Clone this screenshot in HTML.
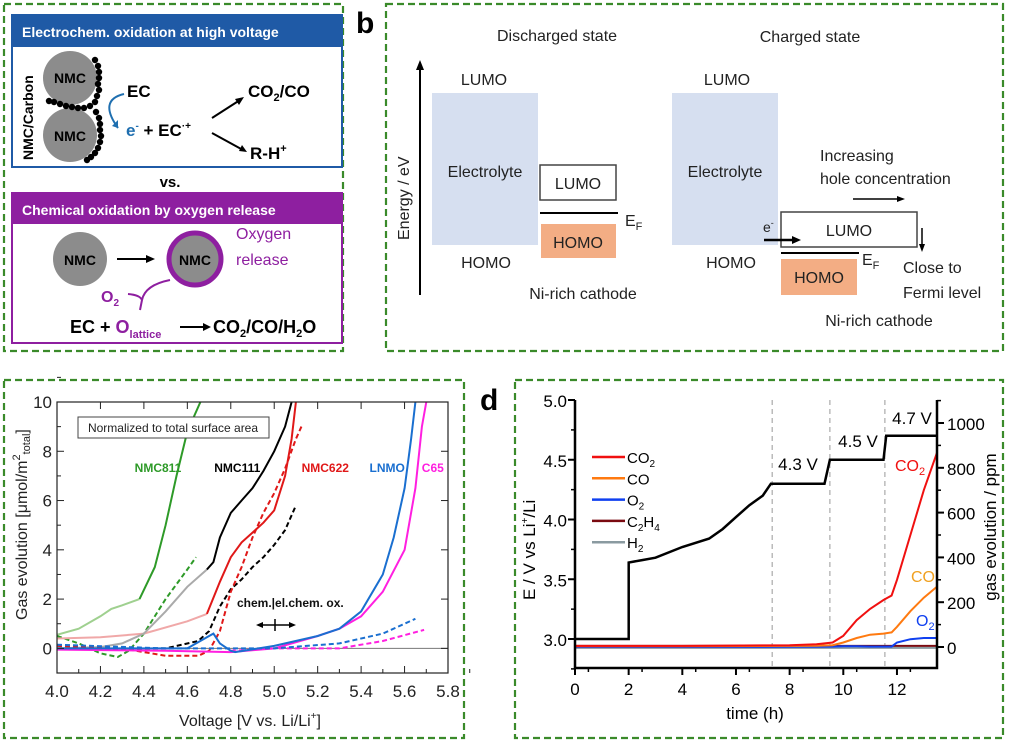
<!DOCTYPE html>
<html><head><meta charset="utf-8"><style>
body{margin:0;background:#fff;width:1010px;height:746px;overflow:hidden}
svg{display:block;font-family:"Liberation Sans",Arial,sans-serif}
</style></head><body>
<svg id="fig" width="1010" height="746" viewBox="0 0 1010 746">
<!-- frames -->
<g fill="none" stroke="#3a8a2a" stroke-width="2.2" stroke-dasharray="7,4">
<rect x="4" y="4" width="339" height="347"/>
<rect x="386" y="4" width="617" height="347"/>
<rect x="4" y="380" width="460" height="358"/>
<rect x="515" y="380" width="488" height="358"/>
</g>
<text x="356" y="33" font-size="30" font-weight="bold">b</text>
<text x="480" y="410" font-size="30" font-weight="bold">d</text>

<!-- Panel a -->
<g>
<rect x="12" y="15" width="330" height="152" fill="#fff" stroke="#1f5aa6" stroke-width="2"/>
<rect x="12" y="15" width="330" height="32" fill="#1f5aa6"/>
<text x="22" y="37" font-size="14" font-weight="bold" fill="#fff">Electrochem. oxidation at high voltage</text>
<circle cx="70" cy="78" r="27" fill="#8c8c8c"/>
<circle cx="70" cy="135" r="27" fill="#8c8c8c"/>
<text x="70" y="83" font-size="14" font-weight="bold" text-anchor="middle">NMC</text>
<text x="70" y="141" font-size="14" font-weight="bold" text-anchor="middle">NMC</text>
<g fill="#000" id="dots"></g>
<text transform="translate(33,160) rotate(-90)" font-size="14" font-weight="bold">NMC/Carbon</text>
<text x="127" y="97" font-size="17" font-weight="bold">EC</text>
<path d="M124 94 Q98 100 118 128" fill="none" stroke="#1f6fb0" stroke-width="2"/>
<path d="M118 128 l-6 -2 l6 -6z" fill="#1f6fb0"/>
<text x="126" y="136" font-size="17" font-weight="bold"><tspan fill="#1f6fb0">e<tspan font-size="10" dy="-7">-</tspan></tspan><tspan dy="7"> + EC</tspan><tspan font-size="10" dy="-7">·+</tspan></text>
<path d="M212 118 L240 100" stroke="#000" stroke-width="2"/><path d="M244 97 l-9 2 l4 6z"/>
<path d="M212 133 L243 150" stroke="#000" stroke-width="2"/><path d="M247 152 l-5 -7 l-3 6z"/>
<text x="248" y="97" font-size="17" font-weight="bold">CO<tspan font-size="11" dy="4">2</tspan><tspan dy="-4">/CO</tspan></text>
<text x="250" y="159" font-size="17" font-weight="bold">R-H<tspan font-size="11" dy="-7">+</tspan></text>
<text x="170" y="187" font-size="15" font-weight="bold" text-anchor="middle">vs.</text>
<rect x="12" y="193" width="330" height="150" fill="#fff" stroke="#8e1fa0" stroke-width="2"/>
<rect x="12" y="193" width="330" height="31" fill="#8e1fa0"/>
<text x="22" y="215" font-size="14" font-weight="bold" fill="#fff">Chemical oxidation by oxygen release</text>
<circle cx="80" cy="259" r="27" fill="#8c8c8c"/>
<text x="80" y="265" font-size="14" font-weight="bold" text-anchor="middle">NMC</text>
<path d="M117 259 L148 259" stroke="#000" stroke-width="2"/><path d="M155 259 l-9 -4 v8z"/>
<circle cx="195" cy="259" r="26" fill="#8c8c8c" stroke="#8e1fa0" stroke-width="5"/>
<text x="195" y="265" font-size="14" font-weight="bold" text-anchor="middle">NMC</text>
<text x="236" y="239" font-size="16" fill="#8e1fa0">Oxygen</text>
<text x="236" y="265" font-size="16" fill="#8e1fa0">release</text>
<path d="M170 280 Q145 285 142 300 M142 300 Q140 295 128 294 M142 300 L140 310" fill="none" stroke="#8e1fa0" stroke-width="2"/>
<text x="101" y="302" font-size="16" font-weight="bold" fill="#8e1fa0">O<tspan font-size="10" dy="4">2</tspan></text>
<text x="70" y="333" font-size="18" font-weight="bold">EC + <tspan fill="#8e1fa0">O<tspan font-size="11" dy="5">lattice</tspan></tspan></text>
<path d="M180 327 L205 327" stroke="#000" stroke-width="2"/><path d="M211 327 l-8 -4 v8z"/>
<text x="213" y="333" font-size="18" font-weight="bold">CO<tspan font-size="11" dy="4">2</tspan><tspan dy="-4">/CO/H</tspan><tspan font-size="11" dy="4">2</tspan><tspan dy="-4">O</tspan></text>
</g>

<!-- Panel b -->
<g font-size="16" fill="#222">
<text x="557" y="41" text-anchor="middle">Discharged state</text>
<text x="810" y="42" text-anchor="middle">Charged state</text>
<path d="M420 295 L420 68" stroke="#000" stroke-width="2"/><path d="M420 60 l-4 10 h8z" fill="#000"/>
<text transform="translate(409,240) rotate(-90)" font-size="16">Energy / eV</text>
<text x="484" y="85" text-anchor="middle">LUMO</text>
<text x="486" y="268" text-anchor="middle">HOMO</text>
<rect x="432" y="93" width="106" height="152" fill="#d6dff0"/>
<text x="485" y="177" text-anchor="middle">Electrolyte</text>
<rect x="540" y="165" width="76" height="35" fill="#fff" stroke="#444" stroke-width="1.5"/>
<text x="578" y="189" text-anchor="middle">LUMO</text>
<path d="M540 213 H618" stroke="#000" stroke-width="2"/>
<text x="625" y="226">E<tspan font-size="11" dy="4">F</tspan></text>
<rect x="541" y="224" width="75" height="34" fill="#f3ad84"/>
<text x="578" y="248" text-anchor="middle">HOMO</text>
<text x="583" y="299" text-anchor="middle">Ni-rich cathode</text>
<text x="727" y="85" text-anchor="middle">LUMO</text>
<text x="731" y="268" text-anchor="middle">HOMO</text>
<rect x="672" y="93" width="106" height="152" fill="#d6dff0"/>
<text x="725" y="177" text-anchor="middle">Electrolyte</text>
<rect x="781" y="212" width="136" height="35" fill="#fff" stroke="#444" stroke-width="1.5"/>
<text x="849" y="236" text-anchor="middle">LUMO</text>
<path d="M764 240 H793" stroke="#000" stroke-width="2.5"/><path d="M801 240 l-9 -4 v8z" fill="#000"/>
<text x="763" y="232" font-size="14">e<tspan font-size="9" dy="-6">-</tspan></text>
<path d="M781 253 H859" stroke="#000" stroke-width="2"/>
<text x="862" y="265">E<tspan font-size="11" dy="4">F</tspan></text>
<rect x="781" y="259" width="76" height="36" fill="#f3ad84"/>
<text x="819" y="283" text-anchor="middle">HOMO</text>
<text x="820" y="161">Increasing</text>
<text x="820" y="184">hole concentration</text>
<path d="M853 199 H898" stroke="#000" stroke-width="1.5"/><path d="M905 199 l-8 -3 v6z" fill="#000"/>
<path d="M922 228 V245" stroke="#000" stroke-width="1.5"/><path d="M922 252 l-3 -8 h6z" fill="#000"/>
<text x="903" y="273">Close to</text>
<text x="903" y="298">Fermi level</text>
<text x="879" y="326" text-anchor="middle">Ni-rich cathode</text>
</g>

<g id="panelC"></g>
<g id="panelD"></g>
</svg>
<script>
// ---------- Panel C data ----------
const cXTicks=[4.0,4.2,4.4,4.6,4.8,5.0,5.2,5.4,5.6,5.8];
const cYTicks=[0,2,4,6,8,10];
const nmc811LightX=[4.0,4.1,4.2,4.25,4.3,4.38];
const nmc811LightY=[0.55,0.8,1.3,1.6,1.75,2.0];
const nmc811X=[4.38,4.45,4.5,4.55,4.6,4.66];
const nmc811Y=[2.0,3.3,5.0,7.0,8.8,10];
const nmc811DashX=[4.0,4.1,4.2,4.28,4.33,4.4,4.5,4.6,4.64];
const nmc811DashY=[0.5,0.2,-0.2,-0.35,-0.1,0.6,2.0,3.2,3.7];
const nmc111LightX=[4.0,4.2,4.3,4.4,4.5,4.6,4.69];
const nmc111LightY=[0.0,0.05,0.2,0.6,1.5,2.5,3.2];
const nmc111X=[4.69,4.72,4.75,4.8,4.85,4.9,4.95,5.0,5.05,5.08];
const nmc111Y=[3.2,3.5,4.5,5.5,6.0,6.5,7.2,8.0,9.0,10];
const nmc111DashX=[4.0,4.5,4.65,4.7,4.75,4.8,4.85,4.9,4.95,5.0,5.05,5.1];
const nmc111DashY=[0,0,0.3,0.7,1.7,2.4,2.8,3.3,3.7,4.2,4.8,5.8];
const nmc622LightX=[4.0,4.2,4.4,4.6,4.69];
const nmc622LightY=[0.4,0.45,0.6,1.1,1.4];
const nmc622X=[4.69,4.75,4.8,4.85,4.9,4.95,5.0,5.05,5.08,5.1];
const nmc622Y=[1.4,2.7,3.7,4.3,4.7,5.1,5.6,7.0,8.5,10];
const nmc622DashX=[4.0,4.3,4.5,4.65,4.7,4.75,4.8,4.85,4.9,4.95,5.0,5.05,5.1,5.13];
const nmc622DashY=[0.1,0,-0.3,-0.3,-0.1,0.7,2.3,3.3,4.5,5.5,6.3,7.3,8.5,9.1];
const lnmoX=[4.0,4.6,4.7,4.72,4.75,4.8,4.82,5.0,5.2,5.3,5.4,5.5,5.55,5.6,5.63,5.65];
const lnmoY=[0,0,0.5,0.6,0.2,-0.1,-0.15,0.1,0.5,0.8,1.5,3.0,4.5,6.5,8.5,10];
const c65X=[4.0,4.5,4.8,5.0,5.2,5.3,5.4,5.5,5.6,5.65,5.68,5.7];
const c65Y=[-0.05,-0.1,-0.15,0,0.5,0.8,1.3,2.3,4.0,6.5,9,10];
const lnmoDashX=[4.0,4.5,5.0,5.3,5.5,5.65];
const lnmoDashY=[0.15,0,0,0.2,0.6,1.2];
const c65DashX=[4.8,5.0,5.3,5.5,5.69];
const c65DashY=[-0.1,0,0,0.3,0.75];
const cLabels=["NMC811","NMC111","NMC622","LNMO","C65"];
const cLabelX=[4.465,4.83,5.235,5.52,5.73];

// ---------- Panel D data ----------
const dXTicks=[0,2,4,6,8,10,12];
const dYTicks=[3.0,3.5,4.0,4.5,5.0];
const dRTicks=[0,200,400,600,800,1000];
const voltT=[0,2,2,2.5,3,4,5,5.5,6,6.5,7,7.3,9.3,9.4,9.5,11.5,11.6,13.5];
const voltE=[3.0,3.0,3.64,3.66,3.68,3.77,3.84,3.92,4.02,4.12,4.2,4.3,4.3,4.4,4.5,4.5,4.7,4.7];
const gasT=[0,4,8,9,9.6,10,10.5,11,11.5,11.8,12,12.5,13,13.5];
const co2Ppm=[5,5,8,12,20,50,120,170,210,230,300,500,700,870];
const coPpm=[3,3,5,6,8,20,40,55,60,65,90,160,220,270];
const o2Ppm=[0,0,1,1,2,3,3,2,2,2,20,35,40,40];
const c2h4Ppm=[5,5,5,5,5,5,5,5,5,5,5,5,5,5];
const h2Ppm=[-4,-4,-4,-4,-4,-4,-4,-4,-4,-4,-4,-4,-4,-4];
const stepT=[7.35,9.5,11.55];
const stepLabels=["4.3 V","4.5 V","4.7 V"];
const legendNames=["CO2","CO","O2","C2H4","H2"];

const NS="http://www.w3.org/2000/svg";
function mk(parent,tag,attrs,txt){const e=document.createElementNS(NS,tag);for(const k in attrs)e.setAttribute(k,attrs[k]);if(txt!==undefined)e.textContent=txt;parent.appendChild(e);return e;}

// ---- Panel C ----
(function(){
const g=document.getElementById('panelC');
const L=57,R=448,T=402,B=673;
const sx=v=>L+(v-4)/1.8*(R-L);
const sy=v=>B-(v+1)/11*(B-T);
const clip=mk(g,'clipPath',{id:'clipC'});mk(clip,'rect',{x:L,y:T,width:R-L,height:B-T});
mk(g,'line',{x1:L,x2:R,y1:sy(0),y2:sy(0),stroke:'#777','stroke-width':1});
function line(xs,ys,col,dash,name,w){
  const p=mk(g,'path',{d:xs.map((x,i)=>(i?'L':'M')+sx(x).toFixed(1)+' '+sy(ys[i]).toFixed(1)).join(' '),fill:'none',stroke:col,'stroke-width':w||2,'stroke-dasharray':dash||'none','clip-path':'url(#clipC)'});
  
  
}
line(nmc811LightX,nmc811LightY,'#9fd08f','', 'nmc811-line-early');
line(nmc811X,nmc811Y,'#2e9a28','', 'nmc811-line');
line(nmc811DashX,nmc811DashY,'#2e9a28','5,3','nmc811-dashed-line');
line(nmc622LightX,nmc622LightY,'#f0a8a8','', 'nmc622-line-early');
line(nmc111LightX,nmc111LightY,'#aaaaaa','', 'nmc111-line-early');
line(nmc111X,nmc111Y,'#000','', 'nmc111-line');
line(nmc111DashX,nmc111DashY,'#000','5,3','nmc111-dashed-line');
line(nmc622X,nmc622Y,'#e01818','', 'nmc622-line');
line(nmc622DashX,nmc622DashY,'#e01818','5,3','nmc622-dashed-line');
line(c65X,c65Y,'#ff1fe0','', 'c65-line');
line(c65DashX,c65DashY,'#ff1fe0','5,3','c65-dashed-line');
line(lnmoX,lnmoY,'#1a6fd0','', 'lnmo-line');
line(lnmoDashX,lnmoDashY,'#1a6fd0','5,3','lnmo-dashed-line');
mk(g,'rect',{x:L,y:T,width:R-L,height:B-T,fill:'none',stroke:'#222','stroke-width':1.2});
cXTicks.forEach(v=>{const x=sx(v);
  mk(g,'line',{x1:x,x2:x,y1:B,y2:B-7,stroke:'#222'});mk(g,'line',{x1:x,x2:x,y1:T,y2:T+7,stroke:'#222'});
  mk(g,'line',{x1:x+sx(4.1)-sx(4),x2:x+sx(4.1)-sx(4),y1:B,y2:B-4,stroke:'#222'});
  const t=mk(g,'text',{x:x,y:B+24,'font-size':17,'text-anchor':'middle',fill:'#222'},v.toFixed(1));
  
  
});
cYTicks.forEach(v=>{const y=sy(v);
  mk(g,'line',{x1:L,x2:L+7,y1:y,y2:y,stroke:'#222'});mk(g,'line',{x1:R,x2:R-7,y1:y,y2:y,stroke:'#222'});
  mk(g,'line',{x1:L,x2:L+4,y1:y-(sy(0)-sy(1)),y2:y-(sy(0)-sy(1)),stroke:'#222'});
  const t=mk(g,'text',{x:L-5,y:y+6,'font-size':17,'text-anchor':'end',fill:'#222'},String(v));
  
  
});
const cols=['#2e9a28','#000','#e01818','#1a6fd0','#ff1fe0'];
cLabels.forEach((n,i)=>{const t=mk(g,'text',{x:sx(cLabelX[i]),y:472,'font-size':12,'font-weight':'bold','text-anchor':'middle',fill:cols[i]},n);
  
  });
const lb=mk(g,'rect',{x:78,y:417,width:191,height:21,fill:'#fff',stroke:'#444'});


mk(g,'text',{x:173,y:432,'font-size':12,'text-anchor':'middle',fill:'#222'},'Normalized to total surface area');
mk(g,'text',{x:237,y:607,'font-size':12,'font-weight':'bold',fill:'#111'},'chem.|el.chem. ox.');
mk(g,'path',{d:'M260 625 H292 M275 619 V631',stroke:'#000','stroke-width':1.5});
mk(g,'path',{d:'M256 625 l7 -3 v6z M296 625 l-7 -3 v6z',fill:'#000'});
const yl=mk(g,'text',{transform:'translate(27,620) rotate(-90)','font-size':16,fill:'#222'});
yl.innerHTML='Gas evolution [μmol/m<tspan font-size="11" dy="-7">2</tspan><tspan font-size="11" dy="10">total</tspan><tspan dy="-3">]</tspan>';


const xl=mk(g,'text',{x:250,y:726,'font-size':16,'text-anchor':'middle',fill:'#222'});
xl.innerHTML='Voltage [V vs. Li/Li<tspan font-size="10" dy="-7">+</tspan><tspan dy="7">]</tspan>';


})();

// ---- Panel D ----
(function(){
const g=document.getElementById('panelD');
const L=575,R=937,T=400,B=668;
const sx=t=>L+t*26.83;
const sy=e=>639-(e-3)*119.5;
const sr=p=>647-p*0.224;
stepT.forEach(t=>{const l=mk(g,'line',{x1:sx(t),x2:sx(t),y1:T,y2:B,stroke:'#aaa','stroke-dasharray':'5,4','stroke-width':1.2});
  
  });
function gline(ys,col,name){const p=mk(g,'path',{d:gasT.map((t,i)=>(i?'L':'M')+sx(t).toFixed(1)+' '+sr(ys[i]).toFixed(1)).join(' '),fill:'none',stroke:col,'stroke-width':2});
  
  }
gline(h2Ppm,'#8a9aa0','h2-line');
gline(c2h4Ppm,'#7a0a10','c2h4-line');
gline(o2Ppm,'#1040f0','o2-line');
gline(coPpm,'#ff7a10','co-line');
gline(co2Ppm,'#f01010','co2-line');
const v=mk(g,'path',{d:voltT.map((t,i)=>(i?'L':'M')+sx(t).toFixed(1)+' '+sy(voltE[i]).toFixed(1)).join(' '),fill:'none',stroke:'#000','stroke-width':2.5});


mk(g,'path',{d:`M${L} ${T} V${B} H${R} V${T}`,fill:'none',stroke:'#000','stroke-width':2.5});
dXTicks.forEach(t=>{const x=sx(t);mk(g,'line',{x1:x,x2:x,y1:B,y2:B+7,stroke:'#000','stroke-width':2});
  mk(g,'line',{x1:x+13.4,x2:x+13.4,y1:B,y2:B+4,stroke:'#000','stroke-width':1.5});
  const tx=mk(g,'text',{x:x,y:B+27,'font-size':17,'text-anchor':'middle'},String(t));
  
  });
dYTicks.forEach(e=>{const y=sy(e);mk(g,'line',{x1:L,x2:L-7,y1:y,y2:y,stroke:'#000','stroke-width':2});
  mk(g,'line',{x1:L,x2:L-4,y1:y+29.9,y2:y+29.9,stroke:'#000','stroke-width':1.5});
  const tx=mk(g,'text',{x:L-8,y:y+7,'font-size':17,'text-anchor':'end'},e.toFixed(1));
  
  });
dRTicks.forEach(p=>{const y=sr(p);mk(g,'line',{x1:R,x2:R+7,y1:y,y2:y,stroke:'#000','stroke-width':2});
  mk(g,'line',{x1:R,x2:R+4,y1:y-22.4,y2:y-22.4,stroke:'#000','stroke-width':1.5});
  const tx=mk(g,'text',{x:R+10,y:y+7,'font-size':17},String(p));
  
  });
const sl=[[798,470],[858,447],[912,424]];
stepLabels.forEach((s,i)=>{const tx=mk(g,'text',{x:sl[i][0],y:sl[i][1],'font-size':17,'text-anchor':'middle'},s);
  
  });
mk(g,'text',{x:895,y:471,'font-size':16,fill:'#f01010'}).innerHTML='CO<tspan font-size="11" dy="4">2</tspan>';
mk(g,'text',{x:911,y:582,'font-size':16,fill:'#f0a020'},'CO');
mk(g,'text',{x:916,y:626,'font-size':16,fill:'#1040f0'}).innerHTML='O<tspan font-size="11" dy="4">2</tspan>';
const lc=['#f01010','#ff7a10','#1040f0','#7a0a10','#8a9aa0'];
const lh=['CO<tspan font-size="10" dy="4">2</tspan>','CO','O<tspan font-size="10" dy="4">2</tspan>','C<tspan font-size="10" dy="4">2</tspan><tspan dy="-4">H</tspan><tspan font-size="10" dy="4">4</tspan>','H<tspan font-size="10" dy="4">2</tspan>'];
legendNames.forEach((n,i)=>{const y=457+i*21.3;
  const l=mk(g,'line',{x1:592,x2:625,y1:y,y2:y,stroke:lc[i],'stroke-width':2.5});
  
  
  const t=mk(g,'text',{x:627,y:y+6,'font-size':15});t.innerHTML=lh[i];
  
  });
const yl=mk(g,'text',{transform:'translate(535,600) rotate(-90)','font-size':17});
yl.innerHTML='E / V vs Li<tspan font-size="10" dy="-7">+</tspan><tspan dy="7">/Li</tspan>';


const yr=mk(g,'text',{transform:'translate(996,527) rotate(-90)','font-size':17,'text-anchor':'middle'},'gas evolution / ppm');


const xl=mk(g,'text',{x:755,y:719,'font-size':17,'text-anchor':'middle'},'time (h)');


})();

// carbon dots in panel a
(function(){const d=document.getElementById('dots');
const pts=[[95,60],[98,66],[99,72],[99,78],[98,84],[99,90],[97,96],[95,102],[90,106],[84,108],[78,108],[72,107],[66,106],[60,104],[54,102],[49,101],[96,112],[99,118],[100,124],[100,130],[101,136],[100,142],[98,148],[95,153],[91,157],[87,160]];
pts.forEach(p=>mk(d,'circle',{cx:p[0],cy:p[1],r:3.2}));})();
</script>
</body></html>
